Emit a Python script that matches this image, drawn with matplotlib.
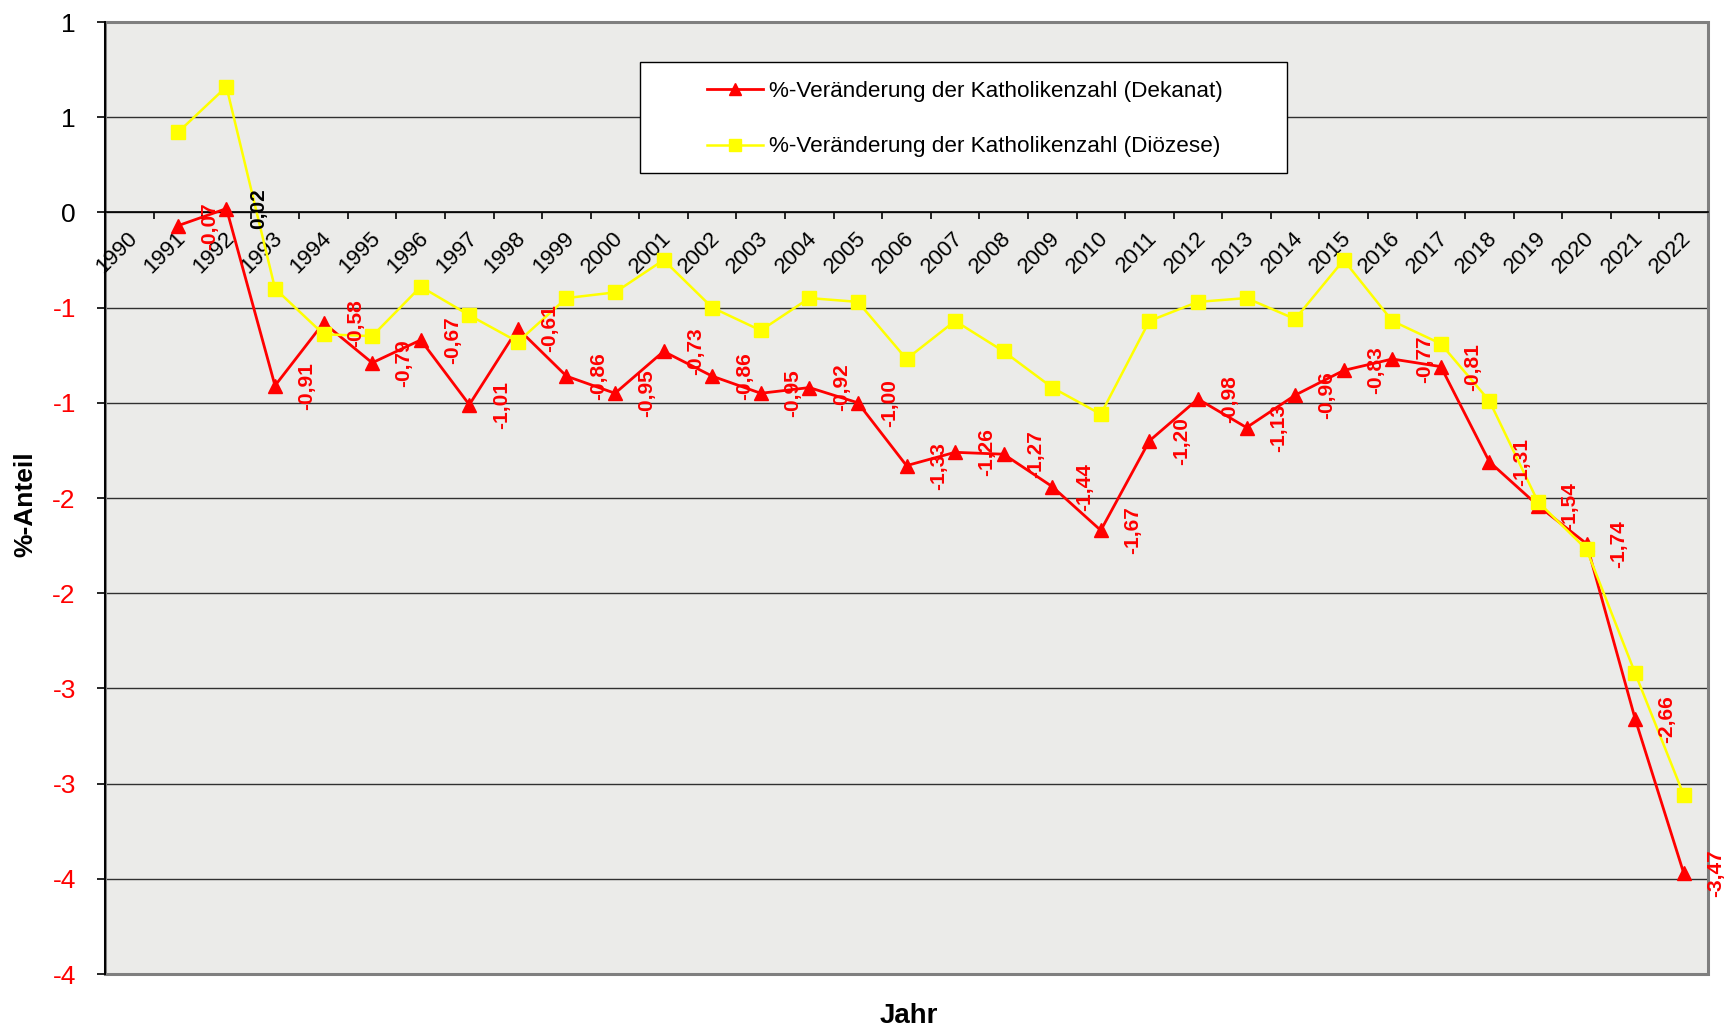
import numpy as np
import matplotlib
matplotlib.use("Agg")
import matplotlib.pyplot as plt
from matplotlib.patches import Rectangle

plt.rcParams["font.family"] = ["Liberation Sans", "DejaVu Sans"]

# data
years = list(range(1990, 2023))
dekanat = [np.nan, -0.07, 0.02, -0.91, -0.58, -0.79, -0.67, -1.01, -0.61, -0.86,
           -0.95, -0.73, -0.86, -0.95, -0.92, -1.00, -1.33, -1.26, -1.27, -1.44,
           -1.67, -1.20, -0.98, -1.13, -0.96, -0.83, -0.77, -0.81, -1.31, -1.54,
           -1.74, -2.66, -3.47]
dioezese = [np.nan, 0.42, 0.66, -0.40, -0.64, -0.65, -0.39, -0.54, -0.68, -0.45,
            -0.42, -0.25, -0.50, -0.62, -0.45, -0.47, -0.77, -0.57, -0.73, -0.92,
            -1.06, -0.57, -0.47, -0.45, -0.56, -0.25, -0.57, -0.69, -0.99, -1.52,
            -1.77, -2.42, -3.06]
y_ticks = [1.0, 0.5, 0.0, -0.5, -1.0, -1.5, -2.0, -2.5, -3.0, -3.5, -4.0]
y_tick_labels = ["1", "1", "0", "-1", "-1", "-2", "-2", "-3", "-3", "-4", "-4"]
label_dekanat = "%-Veränderung der Katholikenzahl (Dekanat)"
label_dioezese = "%-Veränderung der Katholikenzahl (Diözese)"

fig = plt.figure(figsize=(17.26, 10.30), dpi=100)
ax = fig.add_axes([105 / 1726, 56 / 1030, 1603 / 1726, 952 / 1030])
ax.set_facecolor("#ebebe9")

x = np.arange(len(years))
ax.set_xlim(-0.5, len(years) - 0.5)
ax.set_ylim(-4, 1)

# gridlines
ax.set_yticks(y_ticks)
ax.set_yticklabels(y_tick_labels)
ax.yaxis.grid(True, color="#303030", lw=1.0)
ax.set_axisbelow(True)
for lbl, v in zip(ax.get_yticklabels(), y_ticks):
    lbl.set_color("red" if v < 0 else "black")
ax.tick_params(axis="y", direction="out", length=6, width=1.2, pad=15, labelsize=19)

# category axis crossing at 0
ax.spines["bottom"].set_position(("data", 0))
ax.spines["bottom"].set_color("black")
ax.spines["bottom"].set_linewidth(1.2)
ax.set_xticks(np.arange(-0.5, len(years), 1.0))
ax.set_xticklabels([])
ax.tick_params(axis="x", direction="out", length=5, width=1.2)
ax.spines["left"].set_color("black")
ax.spines["left"].set_linewidth(1.4)
ax.spines["top"].set_visible(False)
ax.spines["right"].set_visible(False)
ax.add_patch(Rectangle((0, 0), 1, 1, transform=ax.transAxes, fill=False,
                       edgecolor="#7f7f7f", lw=2.2, zorder=1.5, clip_on=False))

for i, yr in enumerate(years):
    ax.annotate(str(yr), xy=(i, 0), xytext=(-2, -11), textcoords="offset points",
                rotation=45, ha="right", va="top", rotation_mode="anchor",
                fontsize=16, color="black")

# series
ln1, = ax.plot(x, dekanat, color="#ff0000", lw=2.0, marker="^", markersize=10,
               zorder=3, label=label_dekanat)
ln2, = ax.plot(x, dioezese, color="#ffff00", lw=1.8, marker="s", markersize=10.5,
               zorder=4, label=label_dioezese)

# data labels for Dekanat
for i, v in zip(x, dekanat):
    if np.isnan(v):
        continue
    txt = f"{v:.2f}".replace(".", ",")
    ax.annotate(txt, xy=(i, v), xytext=(23, 0), textcoords="offset points",
                rotation=90, ha="center", va="center", fontsize=15,
                fontweight="bold", color="black" if v > 0 else "#ff0000",
                zorder=5, annotation_clip=False)

ax.set_ylabel("%-Anteil", fontsize=19, fontweight="bold")
ax.yaxis.set_label_coords(-0.042, 0.493)
fig.text(826 * 1.1008 / 1726, (1030 - 1016) / 1030, "Jahr", fontsize=20,
         fontweight="bold", ha="center", va="center")

# legend box
fig.patches.append(Rectangle((640 / 1726, (1030 - 173) / 1030), 647 / 1726, 111 / 1030,
                             transform=fig.transFigure, facecolor="white",
                             edgecolor="black", lw=1.0, zorder=5))
leg = fig.legend(handles=[ln1, ln2], loc="center left",
                 bbox_to_anchor=(707 / 1726, (1030 - 119) / 1030),
                 bbox_transform=fig.transFigure, frameon=False, fontsize=16.2,
                 handlelength=2.5, handletextpad=0.25, labelspacing=1.55,
                 borderpad=0, borderaxespad=0, markerscale=0.8)
leg.set_zorder(6)

fig.savefig("out.png", dpi=100)
